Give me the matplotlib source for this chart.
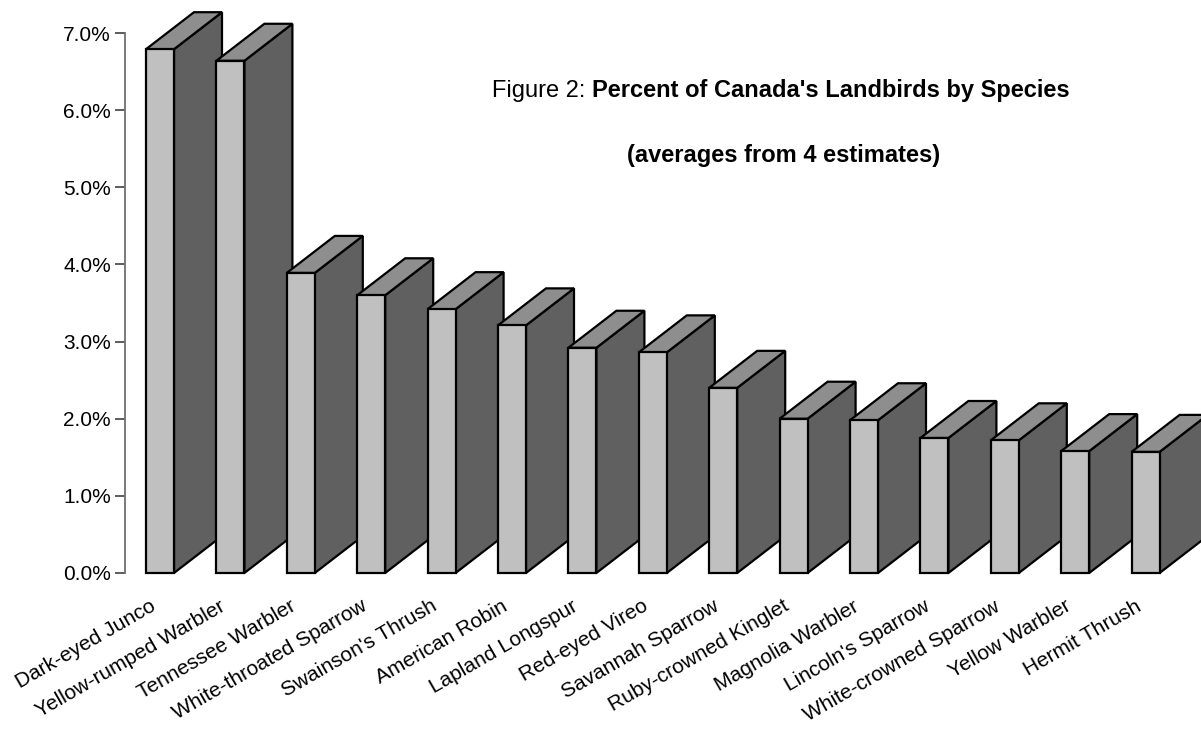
import matplotlib
matplotlib.use("Agg")
import matplotlib.pyplot as plt
from matplotlib.patches import Polygon
from matplotlib.ticker import FuncFormatter
import matplotlib.transforms as mtransforms

species = ["Dark-eyed Junco", "Yellow-rumped Warbler", "Tennessee Warbler",
           "White-throated Sparrow", "Swainson's Thrush", "American Robin",
           "Lapland Longspur", "Red-eyed Vireo", "Savannah Sparrow",
           "Ruby-crowned Kinglet", "Magnolia Warbler", "Lincoln's Sparrow",
           "White-crowned Sparrow", "Yellow Warbler", "Hermit Thrush"]
percent = [6.79, 6.64, 3.89, 3.60, 3.42, 3.21, 2.92, 2.86, 2.40,
           2.00, 1.98, 1.75, 1.72, 1.58, 1.57]
yticks = [0, 1, 2, 3, 4, 5, 6, 7]

plt.rcParams['font.family'] = ['Liberation Sans', 'DejaVu Sans']

W, H = 1201, 730
fig = plt.figure(figsize=(W / 100, H / 100), dpi=100)
ax_left, ax_right, ax_top, ax_bottom = 125, 1201, 33, 573
ax = fig.add_axes([ax_left / W, 1 - ax_bottom / H, (ax_right - ax_left) / W,
                   (ax_bottom - ax_top) / H])

px_per_cat = 70.4
xmin = -35 / px_per_cat
xmax = xmin + (ax_right - ax_left) / px_per_cat
ax.set_xlim(xmin, xmax)
ax.set_ylim(0, 7)

w = 28 / px_per_cat
dx = 48 / px_per_cat
dy = 37 / ((ax_bottom - ax_top) / 7)

front_c, side_c, top_c = '#c0c0c0', '#606060', '#8e8e8e'
lw = 1.6
for i, v in enumerate(percent):
    x0, x1 = i - w / 2, i + w / 2
    z = 3 + i
    side = Polygon([(x1, 0), (x1 + dx, dy), (x1 + dx, v + dy), (x1, v)],
                   closed=True, facecolor=side_c, edgecolor='black', lw=lw,
                   joinstyle='miter', clip_on=False, zorder=z)
    top = Polygon([(x0, v), (x1, v), (x1 + dx, v + dy), (x0 + dx, v + dy)],
                  closed=True, facecolor=top_c, edgecolor='black', lw=lw,
                  joinstyle='miter', clip_on=False, zorder=z)
    front = Polygon([(x0, 0), (x1, 0), (x1, v), (x0, v)], closed=True,
                    facecolor=front_c, edgecolor='black', lw=lw,
                    joinstyle='miter', clip_on=False, zorder=z)
    for p in (side, top, front):
        ax.add_patch(p)

for s in ['top', 'right', 'bottom']:
    ax.spines[s].set_visible(False)
ax.spines['left'].set_color('#707070')
ax.spines['left'].set_linewidth(1.3)

ax.set_yticks(yticks)
ax.yaxis.set_major_formatter(FuncFormatter(lambda v, p: f"{v:.1f}%"))
ax.tick_params(axis='y', direction='out', length=7, width=1.1, color='#303030',
               labelsize=15, pad=3)

ax.set_xticks(range(len(species)))
ax.set_xticklabels(species, rotation=30, ha='right', va='top',
                   rotation_mode='anchor', fontsize=15)
ax.tick_params(axis='x', length=0, pad=17)
shift = mtransforms.ScaledTranslation(-11 / 100, 0, fig.dpi_scale_trans)
for lab in ax.get_xticklabels():
    lab.set_transform(lab.get_transform() + shift)

def fx(x):
    return x / W

def fy(y):
    return 1 - y / H

fig.text(fx(585), fy(97), "Figure 2:", ha='right', va='baseline', fontsize=17)
fig.text(fx(592), fy(97), "Percent of Canada's Landbirds by Species",
         ha='left', va='baseline', fontsize=17, fontweight='bold')
fig.text(fx(783.5), fy(162), "(averages from 4 estimates)", ha='center',
         va='baseline', fontsize=17, fontweight='bold')

fig.savefig("out.png", dpi=100, facecolor='white')
